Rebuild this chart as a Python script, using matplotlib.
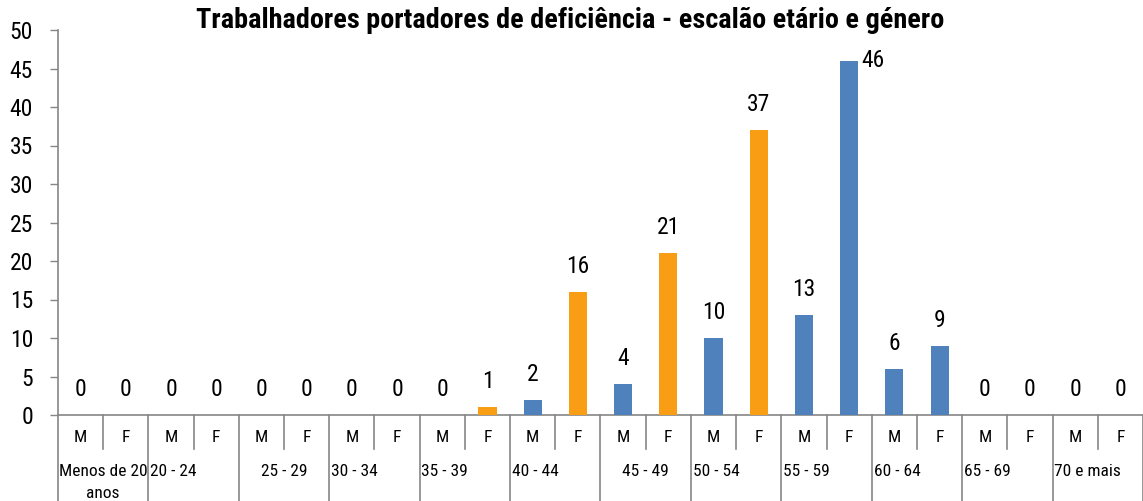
import matplotlib
matplotlib.use("Agg")
import matplotlib.pyplot as plt
from matplotlib import font_manager

names = {f.name for f in font_manager.fontManager.ttflist}
PREF = ['Liberation Sans Narrow', 'Arial Narrow', 'Roboto Condensed', 'Archivo Narrow',
        'PT Sans Narrow', 'Asap Condensed', 'Liberation Sans']
FAM = [f for f in PREF if f in names][:1] + ['DejaVu Sans']
plt.rcParams['font.family'] = FAM

title = "Trabalhadores portadores de deficiência - escalão etário e género"
groups = ["Menos de 20\nanos", "20 - 24", "25 - 29", "30 - 34", "35 - 39", "40 - 44",
          "45 - 49", "50 - 54", "55 - 59", "60 - 64", "65 - 69", "70 e mais"]
sexes = ["M", "F"]
values = [0, 0, 0, 0, 0, 0, 0, 0, 0, 1, 2, 16, 4, 21, 10, 37, 13, 46, 6, 9, 0, 0, 0, 0]
bar_colors = ["#4F81BD"] * 9 + ["#F99D15", "#4F81BD", "#F99D15", "#4F81BD", "#F99D15",
              "#4F81BD", "#F99D15"] + ["#4F81BD"] * 8
group_align = ["center", "left", "center", "left", "left", "left",
               "center", "left", "left", "left", "left", "left"]

W, H = 1143, 501
fig = plt.figure(figsize=(W / 100, H / 100), dpi=100)
renderer = fig.canvas.get_renderer()

def fit(s, target_px, weight='normal'):
    t = fig.text(0, 0, s, fontsize=10, fontweight=weight)
    w = t.get_window_extent(renderer).width
    t.remove()
    return 10 * target_px / w

fs_title = fit(title, 750, 'bold')
fs_num = fit("50", 23)
fs_grp = fit("70 e mais", 66)
fs_sex = fs_grp

x0, x1, ytop, ybot = 58, 1143, 30, 415
ax = fig.add_axes([x0 / W, 1 - ybot / H, (x1 - x0) / W, (ybot - ytop) / H])

n = len(values)
xs = list(range(n))
ax.bar(xs, values, width=0.4, color=bar_colors, zorder=3)
ax.set_xlim(-0.5, n - 0.5)
ax.set_ylim(0, 50)
ax.set_yticks(range(0, 51, 5))
ax.tick_params(axis='y', labelsize=fs_num, length=6, width=1, color='#868686', pad=12)
ax.set_xticks([])
for s in ['top', 'right']:
    ax.spines[s].set_visible(False)
for s in ['left', 'bottom']:
    ax.spines[s].set_color('#868686')
    ax.spines[s].set_linewidth(1.2)

for i, v in enumerate(values):
    if v == max(values):
        ax.annotate(str(v), (i + 0.2, v), xytext=(2, 0), textcoords='offset points',
                    ha='left', va='center', fontsize=fs_num)
    else:
        ax.annotate(str(v), (i, v), xytext=(0, 10), textcoords='offset points',
                    ha='center', va='bottom', fontsize=fs_num)

tr = ax.get_xaxis_transform()
span = ybot - ytop
def yf(p):
    return (ybot - p) / span

for i in range(n):
    ax.text(i, yf(438), sexes[i % 2], transform=tr, ha='center', va='center', fontsize=fs_sex)
for k in range(n + 1):
    xb = k - 0.5
    yend = yf(501) if k % 2 == 0 else yf(449)
    ax.plot([xb, xb], [0, yend], transform=tr, color='#868686', lw=1.2, clip_on=False)

for g, lab in enumerate(groups):
    al = group_align[g]
    xg = 2 * g + 0.5 if al == 'center' else 2 * g - 0.5 + 0.04
    lines = lab.split('\n')
    for j, ln in enumerate(lines):
        ax.text(xg, yf(472 + 21 * j), ln, transform=tr, ha=al, va='center', fontsize=fs_grp)

fig.text(570 / W, 1 - 20 / H, title, ha='center', va='center', fontsize=fs_title,
         fontweight='bold')

fig.savefig("out.png", dpi=100)
